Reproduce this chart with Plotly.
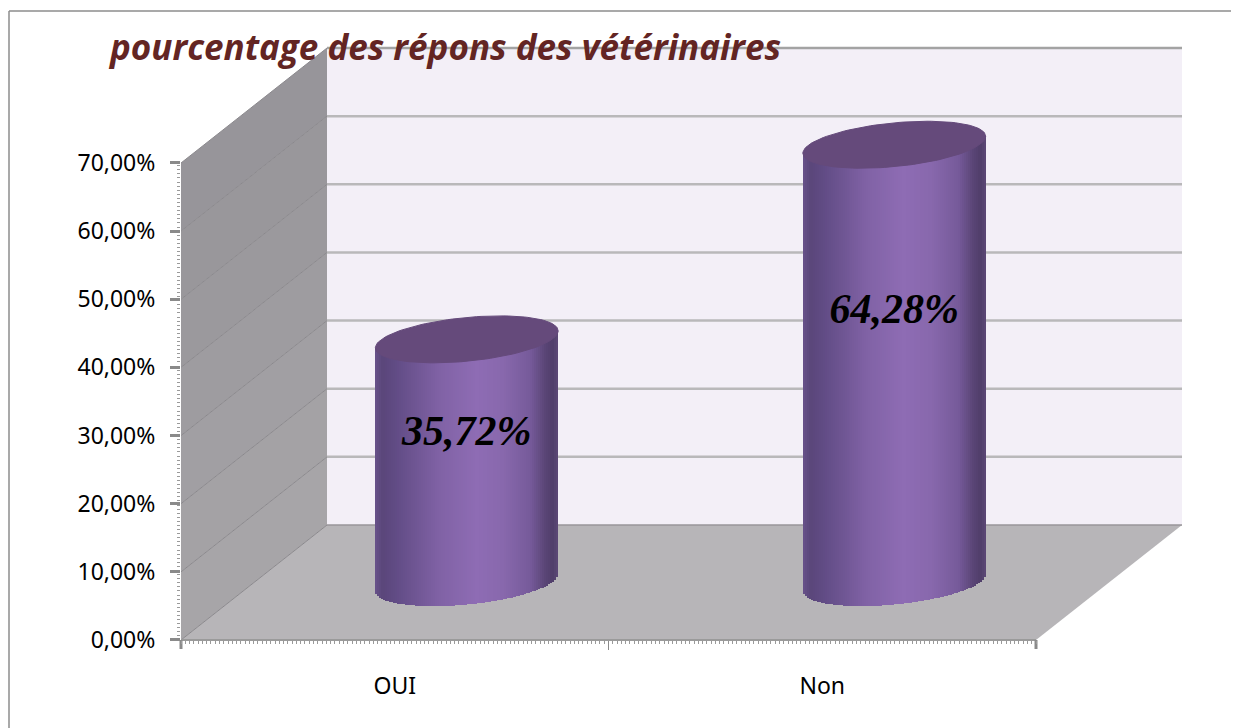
"""3D-look cylinder chart: pourcentage des réponses des vétérinaires."""

import numpy as np
import plotly.graph_objects as go

CATEGORIES = ["OUI", "Non"]
VALUES = [35.72, 64.28]
VALUE_LABELS = ["35,72%", "64,28%"]
Y_TICKS = [0, 10, 20, 30, 40, 50, 60, 70]
Y_TICK_LABELS = ["0,00%", "10,00%", "20,00%", "30,00%", "40,00%", "50,00%", "60,00%", "70,00%"]
TITLE = "pourcentage des répons des vétérinaires"

# page geometry, pixels; the page body keeps an 8 px margin round the plot
W, H = 1239, 728
PAGE_MARGIN = 8
FIG_W, FIG_H = W - 2 * PAGE_MARGIN, H - 2 * PAGE_MARGIN
HEIGHT_SLACK = 15  # the photographed plot came out this much shorter than asked
X0, X1 = 181, 1036  # front edge of the floor
Y0, Y70 = 640, 163  # 0 % and 70 % on the side wall
DEPTH_X, DEPTH_Y = 146, 115  # how far the back wall is shifted
PX_PER_PCT = (Y0 - Y70) / 70
PX_PER_CAT = (X1 - X0) / 2
Y_TOP = 92  # axis keeps going above 70 % so the caps are not clipped

# cylinder geometry in axis units
BAR_SHIFT = 72 / PX_PER_CAT
BASE_LIFT = 8.4
HALF_W = 91.4 / PX_PER_CAT
CAP_B = 21.9 / PX_PER_PCT
TILT = 0.093 * PX_PER_CAT / PX_PER_PCT
LABEL_RISE = [3.9, 7.5]
N_SLICES = 92

SHADE_POS = [0, 0.04, 0.12, 0.35, 0.55, 0.7, 0.85, 0.93, 0.97, 1]
SHADE_R = [104, 90, 98, 128, 142, 136, 118, 90, 80, 92]
SHADE_G = [82, 70, 76, 98, 108, 104, 90, 69, 62, 72]
SHADE_B = [138, 122, 134, 165, 180, 173, 154, 118, 106, 118]

WALL_R = [167, 164, 161, 158, 155, 153, 151]
WALL_G = [165, 162, 159, 156, 153, 151, 149]
WALL_B = [168, 165, 163, 160, 157, 155, 154]


def px(x):
    return (x - PAGE_MARGIN) / FIG_W


def py(y):
    return 1 - (y - PAGE_MARGIN) / FIG_H


def poly(points, fill, line=None, width=0):
    path = "M " + " L ".join(f"{px(x):.5f},{py(y):.5f}" for x, y in points) + " Z"
    return dict(
        type="path",
        xref="paper",
        yref="paper",
        path=path,
        fillcolor=fill,
        line=dict(color=line or fill, width=width),
        layer="below",
    )


def seg(x0, y0, x1, y1, color, width):
    return dict(
        type="line",
        xref="paper",
        yref="paper",
        x0=px(x0),
        y0=py(y0),
        x1=px(x1),
        y1=py(y1),
        line=dict(color=color, width=width),
        layer="below",
    )


shapes = [
    poly(
        [(X0 + DEPTH_X, Y0 - DEPTH_Y), (X1 + DEPTH_X, Y0 - DEPTH_Y),
         (X1 + DEPTH_X, Y70 - DEPTH_Y), (X0 + DEPTH_X, Y70 - DEPTH_Y)],
        "#f3eff7",
    ),
    poly(
        [(X0, Y0), (X1, Y0), (X1 + DEPTH_X, Y0 - DEPTH_Y), (X0 + DEPTH_X, Y0 - DEPTH_Y)],
        "#b7b5b8",
    ),
]
# side wall, one strip per gridline interval, darker towards the top
for k in range(len(Y_TICKS) - 1):
    low = Y0 - Y_TICKS[k] * PX_PER_PCT
    high = Y0 - Y_TICKS[k + 1] * PX_PER_PCT
    shapes.append(
        poly(
            [(X0, low), (X0 + DEPTH_X, low - DEPTH_Y), (X0 + DEPTH_X, high - DEPTH_Y), (X0, high)],
            f"rgb({WALL_R[k]},{WALL_G[k]},{WALL_B[k]})",
        )
    )
for tick in Y_TICKS:
    y = Y0 - tick * PX_PER_PCT
    if tick > 0:
        grid_color = "#a3a3a3" if tick == Y_TICKS[-1] else "#b9b8ba"
        shapes.append(seg(X0 + DEPTH_X, y - DEPTH_Y, X1 + DEPTH_X, y - DEPTH_Y, grid_color, 2.5))
    shapes.append(seg(X0, y, X0 + DEPTH_X, y - DEPTH_Y, "#8b898d", 1))
shapes.append(seg(X0 + DEPTH_X, Y0 - DEPTH_Y, X1 + DEPTH_X, Y0 - DEPTH_Y, "#98969a", 1.5))
shapes.append(seg(X0, Y0, X1, Y0, "#9a9a9a", 2))
# thicker end ticks of the x axis
shapes.append(seg(X0, Y0, X0, Y0 + 9, "#8a8a8a", 3))
shapes.append(seg(X1, Y0, X1, Y0 + 9, "#8a8a8a", 3))
# frame of the picture: only the top and left sides show
shapes.append(seg(9, 11, W, 11, "#8c8c8c", 1.5))
shapes.append(seg(9, 11, 9, H, "#8c8c8c", 1.5))

fig = go.Figure()

for i, value in enumerate(VALUES):
    center = i + 0.5 + BAR_SHIFT
    edges = np.linspace(-HALF_W, HALF_W, N_SLICES + 1)
    u = (edges[:-1] + edges[1:]) / 2
    t = (u + HALF_W) / (2 * HALF_W)
    colors = [
        f"rgb({r:.0f},{g:.0f},{b:.0f})"
        for r, g, b in zip(
            np.interp(t, SHADE_POS, SHADE_R),
            np.interp(t, SHADE_POS, SHADE_G),
            np.interp(t, SHADE_POS, SHADE_B),
        )
    ]
    arc = CAP_B * np.sqrt(1 - (u / HALF_W) ** 2)
    base = BASE_LIFT + TILT * u - arc
    top = BASE_LIFT + value + TILT * u
    fig.add_trace(
        go.Bar(
            x=center + u,
            y=top - base,
            base=base,
            width=2 * HALF_W / N_SLICES * 1.05,
            marker=dict(color=colors, line=dict(width=0)),
            hoverinfo="skip",
        )
    )
    # cap of the cylinder
    a = np.linspace(0, 2 * np.pi, 121)
    cap_u = HALF_W * np.cos(a)
    fig.add_trace(
        go.Scatter(
            x=center + cap_u,
            y=BASE_LIFT + value + TILT * cap_u + CAP_B * np.sin(a),
            mode="lines",
            fill="toself",
            fillcolor="#654a7b",
            line=dict(color="#654a7b", width=1),
            hoverinfo="skip",
        )
    )

fig.add_trace(
    go.Scatter(
        x=[i + 0.5 + BAR_SHIFT for i in range(len(VALUES))],
        y=[v / 2 + BASE_LIFT + r for v, r in zip(VALUES, LABEL_RISE)],
        mode="text",
        text=VALUE_LABELS,
        textposition="middle center",
        textfont=dict(family="Liberation Serif", size=42, color="black", style="italic", weight="bold"),
        hoverinfo="skip",
    )
)

# empty trace on the overlay axis that carries the x tick marks
fig.add_trace(go.Scatter(x=[0, 2], y=[0, 0], xaxis="x2", mode="none", hoverinfo="skip"))

domain_x = [px(X0), px(X1)]
fig.update_layout(
    width=FIG_W,
    height=FIG_H + HEIGHT_SLACK,
    autosize=False,
    margin=dict(l=0, r=0, t=0, b=0),
    paper_bgcolor="white",
    plot_bgcolor="rgba(0,0,0,0)",
    showlegend=False,
    barmode="overlay",
    bargap=0,
    shapes=shapes,
    font=dict(family="Noto Sans", color="black"),
    title=dict(
        text=TITLE,
        x=px(110),
        xanchor="left",
        y=py(47),
        yanchor="middle",
        font=dict(family="Open Sans", size=35, color="#632523", style="italic", weight="bold"),
    ),
    xaxis=dict(
        domain=domain_x,
        range=[0, 2],
        tickvals=[0.5, 1.5],
        ticktext=CATEGORIES,
        ticks="",
        showgrid=False,
        zeroline=False,
        showline=False,
        tickfont=dict(size=23),
        ticklabelstandoff=30,
    ),
    xaxis2=dict(
        domain=domain_x,
        range=[0, 2],
        overlaying="x",
        anchor="y",
        side="bottom",
        tickvals=[1],
        ticktext=[""],
        ticks="outside",
        ticklen=9,
        tickwidth=1,
        tickcolor="#8a8a8a",
        minor=dict(dtick=0.01, ticks="outside", ticklen=3, tickwidth=1, tickcolor="#9a9a9a"),
        showgrid=False,
        zeroline=False,
        showline=False,
    ),
    yaxis=dict(
        domain=[py(Y0), py(Y0 - Y_TOP * PX_PER_PCT)],
        range=[0, Y_TOP],
        anchor="x",
        tickvals=Y_TICKS,
        ticktext=Y_TICK_LABELS,
        ticks="outside",
        ticklen=10,
        tickwidth=3,
        tickcolor="#8a8a8a",
        minor=dict(
            tickvals=list(np.arange(0, 70.1, 0.6)),
            ticks="outside",
            ticklen=3,
            tickwidth=1,
            tickcolor="#9a9a9a",
        ),
        showgrid=False,
        zeroline=False,
        showline=False,
        tickfont=dict(size=23),
        ticklabelstandoff=10,
    ),
)

fig.write_html("out.html")
